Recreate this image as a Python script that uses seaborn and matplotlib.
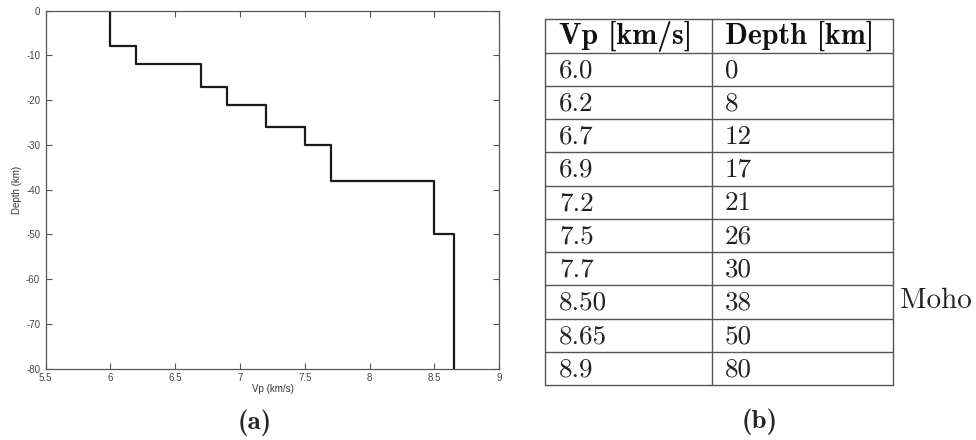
import matplotlib
matplotlib.use("Agg")
import matplotlib.pyplot as plt
import numpy as np
import pandas as pd
import seaborn as sns

# P-wave velocity model: layer top depths and velocities
vp = [6.0, 6.2, 6.7, 6.9, 7.2, 7.5, 7.7, 8.50, 8.65, 8.9]
depth = [0, 8, 12, 17, 21, 26, 30, 38, 50, 80]
vp_labels = ["6.0", "6.2", "6.7", "6.9", "7.2", "7.5", "7.7", "8.50", "8.65", "8.9"]
depth_labels = ["0", "8", "12", "17", "21", "26", "30", "38", "50", "80"]
header = ["Vp [km/s]", "Depth [km]"]
moho_row = 7

x_ticks = [5.5, 6, 6.5, 7, 7.5, 8, 8.5, 9]
y_ticks = [0, -10, -20, -30, -40, -50, -60, -70, -80]

sns.set_theme(style="white")
plt.rcParams["axes.unicode_minus"] = False
plt.rcParams["font.family"] = ["Liberation Sans", "DejaVu Sans"]

W, H = 976, 440
fig = plt.figure(figsize=(W / 100, H / 100), dpi=100)

# ---- (a) velocity profile ----
ax = fig.add_axes([45.7 / W, 1 - 368.7 / H, (499.3 - 45.7) / W, (368.7 - 10.7) / H])

# each layer spans from its top depth to the top of the next layer
prof_x, prof_y = [], []
for i in range(len(vp) - 1):
    prof_x += [vp[i], vp[i]]
    prof_y += [-depth[i], -depth[i + 1]]
df = pd.DataFrame({"Vp": prof_x, "Depth": prof_y})
sns.lineplot(data=df, x="Vp", y="Depth", ax=ax, color="#1a1a1a", linewidth=1.6,
             estimator=None, sort=False)
ax.set_xlim(5.5, 9)
ax.set_ylim(-80, 0)
ax.set_xticks(x_ticks)
ax.set_xticklabels([f"{t:g}" for t in x_ticks])
ax.set_yticks(y_ticks)
ax.set_yticklabels([str(t) for t in y_ticks])
ax.set_xlabel("Vp (km/s)", fontsize=7, color="#333333", labelpad=1)
ax.set_ylabel("Depth (km)", fontsize=7, color="#333333", labelpad=3)
ax.tick_params(axis="both", which="both", direction="in", length=4, width=0.8,
               colors="#555555", labelsize=7, labelcolor="#444444",
               top=True, right=True, bottom=True, left=True)
ax.tick_params(axis="x", pad=3)
ax.tick_params(axis="y", pad=4)
for s in ax.spines.values():
    s.set_color("#555555")
    s.set_linewidth(0.9)
    s.set_visible(True)

fig.text(255 / W, 1 - 423 / H, "(a)", family="cmb10", fontsize=19.5,
         ha="center", va="center")

# ---- (b) velocity table ----
tab = fig.add_axes([0, 0, 1, 1])
tab.set_xlim(0, W)
tab.set_ylim(H, 0)
tab.axis("off")

x_left, x_mid, x_right = 545, 712, 893
y_top, row_h = 19.5, 33.25
n_rows = len(vp) + 1
line_kw = dict(color="#555555", linewidth=1.0)
for i in range(n_rows + 1):
    y = y_top + i * row_h
    tab.plot([x_left, x_right], [y, y], **line_kw)
for x in (x_left, x_mid, x_right):
    tab.plot([x, x], [y_top, y_top + n_rows * row_h], **line_kw)

def row_y(i):
    return y_top + (i + 0.5) * row_h

tab.text(x_left + 14, row_y(0), header[0], family="cmb10", fontsize=21.5,
         ha="left", va="center", color="#111111")
tab.text(x_mid + 13, row_y(0), header[1], family="cmb10", fontsize=21.5,
         ha="left", va="center", color="#111111")
for i, (v, d) in enumerate(zip(vp_labels, depth_labels), start=1):
    tab.text(x_left + 14, row_y(i) + 1, v, family="cmr10", fontsize=19.5,
             ha="left", va="center", color="#222222")
    tab.text(x_mid + 13, row_y(i) + 1, d, family="cmr10", fontsize=19.5,
             ha="left", va="center", color="#222222")
tab.text(900, row_y(moho_row + 1) - 1, "Moho", family="cmr10", fontsize=21,
         ha="left", va="center", color="#222222")

fig.text(760 / W, 1 - 422 / H, "(b)", family="cmb10", fontsize=19.5,
         ha="center", va="center")

fig.savefig("out.png", dpi=100)
